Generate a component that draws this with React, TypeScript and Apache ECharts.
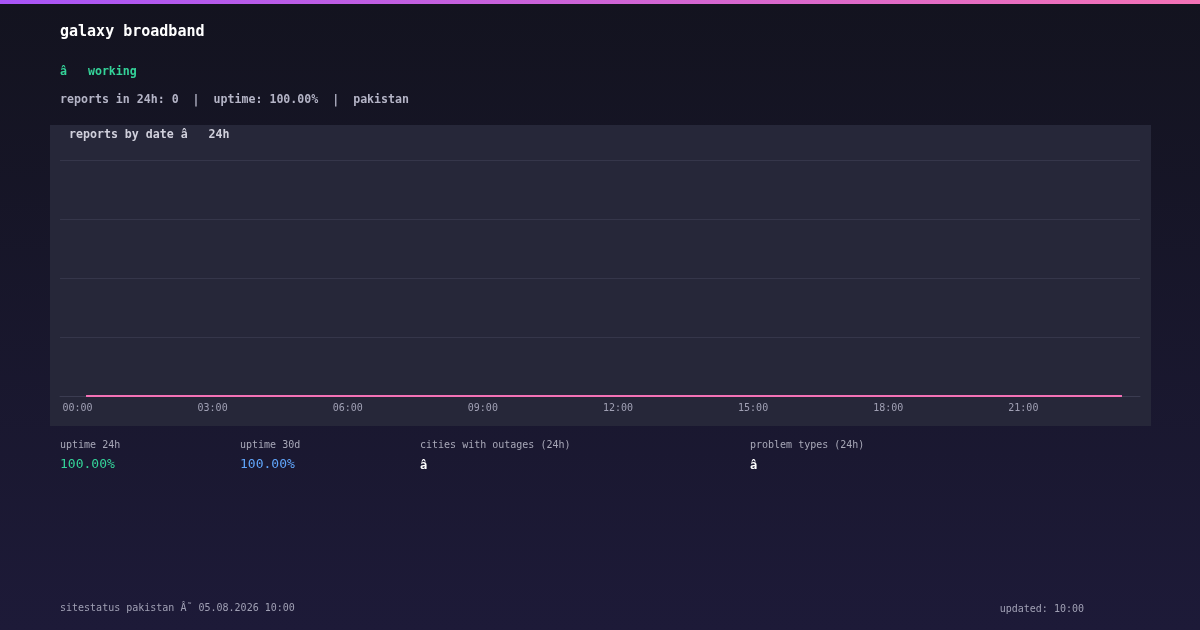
import React, { useEffect, useRef } from "react";
import * as echarts from "echarts";

const hours = [
  "00:00", "01:00", "02:00", "03:00", "04:00", "05:00", "06:00", "07:00",
  "08:00", "09:00", "10:00", "11:00", "12:00", "13:00", "14:00", "15:00",
  "16:00", "17:00", "18:00", "19:00", "20:00", "21:00", "22:00", "23:00",
];
const reports = [0, 0, 0, 0, 0, 0, 0, 0, 0, 0, 0, 0, 0, 0, 0, 0, 0, 0, 0, 0, 0, 0, 0, 0];
const labelHours = [0, 3, 6, 9, 12, 15, 18, 21];
const yTicks = [0, 1, 2, 3, 4];

const MONO = '"DejaVu Sans Mono", monospace';

function txt(text: string, x: number, y: number, size: number, fill: string, weight = "normal", align = "left") {
  return {
    type: "text",
    z: 10,
    style: {
      text,
      x,
      y,
      fill,
      fontFamily: MONO,
      fontSize: size,
      fontWeight: weight,
      align,
      verticalAlign: "middle",
    },
  };
}

export default function App() {
  const ref = useRef<HTMLDivElement>(null);
  useEffect(() => {
    if (!ref.current) return;
    const chart = echarts.init(ref.current, undefined, { renderer: "svg" });
    const pts = reports.map((v, i) => [i, v]);
    chart.setOption({
      animation: false,
      graphic: [
        {
          type: "rect",
          z: -10,
          shape: { x: 0, y: 0, width: 1200, height: 630 },
          style: {
            fill: new echarts.graphic.LinearGradient(0, 0, 0, 1, [
              { offset: 0, color: "#13131f" },
              { offset: 1, color: "#1d1a38" },
            ]),
          },
        },
        {
          type: "rect",
          z: -9,
          shape: { x: 0, y: 0, width: 1200, height: 4 },
          style: {
            fill: new echarts.graphic.LinearGradient(0, 0, 1, 0, [
              { offset: 0, color: "#a855f7" },
              { offset: 1, color: "#f472b6" },
            ]),
          },
        },
        {
          type: "rect",
          z: -8,
          shape: { x: 50, y: 125, width: 1101, height: 301 },
          style: { fill: "#262739" },
        },
        txt("galaxy broadband", 60, 31, 15, "#ffffff", "bold"),
        txt("â   working", 60, 71, 11.6, "#34d399", "bold"),
        txt("reports in 24h: 0  |  uptime: 100.00%  |  pakistan", 60, 99, 11.6, "#b4b4c6", "bold"),
        txt("reports by date â   24h", 69, 134, 11.6, "#d0d0dc", "bold"),
        txt("uptime 24h", 60, 444, 10, "#a8a8b8"),
        txt("uptime 30d", 240, 444, 10, "#a8a8b8"),
        txt("cities with outages (24h)", 420, 444, 10, "#a8a8b8"),
        txt("problem types (24h)", 750, 444, 10, "#a8a8b8"),
        txt("100.00%", 60, 463, 13, "#34d399"),
        txt("100.00%", 240, 463, 13, "#60a5fa"),
        txt("â", 420, 465, 12, "#ffffff", "bold"),
        txt("â", 750, 465, 12, "#ffffff", "bold"),
        txt("sitestatus pakistan Â˜ 05.08.2026 10:00", 60, 607, 10, "#a0a0b4"),
        txt("updated: 10:00", 1084, 608, 10, "#a0a0b4", "normal", "right"),
      ],
      grid: { left: 60, right: 60, top: 160, bottom: 234 },
      xAxis: {
        type: "value",
        min: -26 / 45,
        max: 23 + 18 / 45,
        axisLine: { show: true, lineStyle: { color: "#3b3c51", width: 1 } },
        axisTick: { show: false },
        splitLine: { show: false },
        axisLabel: {
          customValues: labelHours.map((h) => h - 0.19),
          formatter: (v: number) => hours[Math.round(v)] ?? "",
          color: "#a0a0b4",
          fontFamily: MONO,
          fontSize: 10,
          margin: 6,
        },
      },
      yAxis: {
        type: "value",
        min: yTicks[0],
        max: yTicks[yTicks.length - 1],
        interval: 1,
        axisLine: { show: false },
        axisTick: { show: false },
        axisLabel: { show: false },
        splitLine: { show: true, lineStyle: { color: "#35364a", width: 1 } },
      },
      series: [
        {
          type: "line",
          data: pts,
          showSymbol: false,
          lineStyle: { color: "#f472b6", width: 2 },
          z: 5,
        },
      ],
    });
    return () => chart.dispose();
  }, []);
  return (
    <div
      ref={ref}
      style={{ position: "fixed", left: 0, top: 0, width: 1200, height: 630 }}
    />
  );
}
